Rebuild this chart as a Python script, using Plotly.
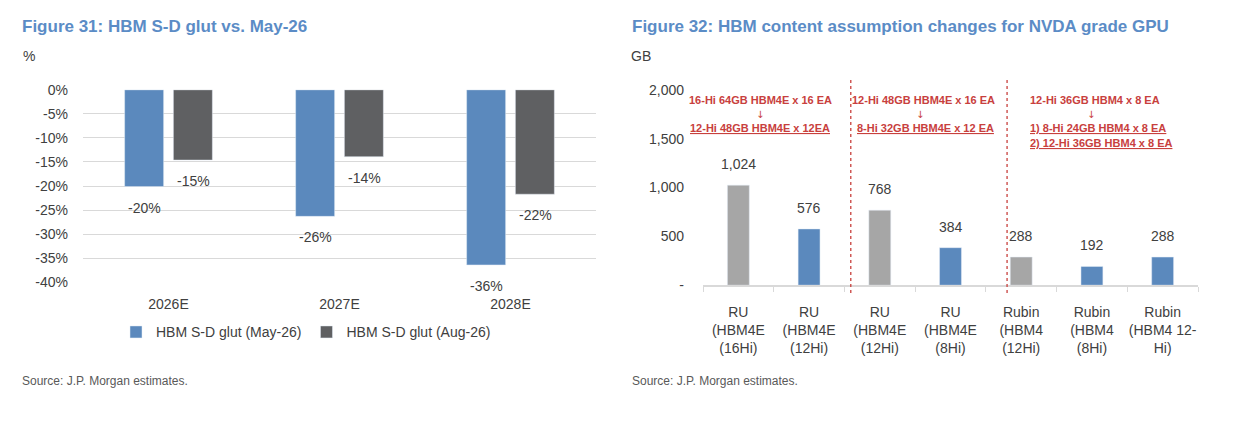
import plotly.graph_objects as go

W, H = 1234, 426

# ---- Figure 31 data
glut_years = ["2026E", "2027E", "2028E"]
glut_may26 = [-20.1, -26.3, -36.4]
glut_aug26 = [-14.6, -13.9, -21.7]
glut_ticks = [0, -5, -10, -15, -20, -25, -30, -35, -40]

# ---- Figure 32 data
gpu_labels = [
    "RU<br>(HBM4E<br>(16Hi)",
    "RU<br>(HBM4E<br>(12Hi)",
    "RU<br>(HBM4E<br>(12Hi)",
    "RU<br>(HBM4E<br>(8Hi)",
    "Rubin<br>(HBM4<br>(12Hi)",
    "Rubin<br>(HBM4<br>(8Hi)",
    "Rubin<br>(HBM4 12-<br>Hi)",
]
gpu_content_gb = [1024, 576, 768, 384, 288, 192, 288]
gpu_is_revised = [False, True, False, True, False, True, True]
gb_ticks = [0, 500, 1000, 1500, 2000]
gb_ticktext = ["-", "500", "1,000", "1,500", "2,000"]

FONT = "Liberation Sans, Arial, sans-serif"
ARROW_FONT = "DejaVu Sans, sans-serif"
TXT = "#404040"
BLUE = "#5b89bd"
DARK = "#5f6062"
LIGHT = "#a6a6a6"
RED = "#c8403d"
TITLE = "#5b8cc6"
GRID = "#d9d9d9"


def px_x(x):
    return x / W


def px_y(y):
    return 1 - y / H


gpu_pos = list(range(len(gpu_labels)))

fig = go.Figure()

fig.add_trace(go.Bar(
    x=glut_years, y=glut_may26, name="HBM S-D glut (May-26)",
    marker_color=BLUE, xaxis="x", yaxis="y",
))
fig.add_trace(go.Bar(
    x=glut_years, y=glut_aug26, name="HBM S-D glut (Aug-26)",
    marker_color=DARK, xaxis="x", yaxis="y",
))
fig.add_trace(go.Bar(
    x=gpu_pos, y=gpu_content_gb, showlegend=False,
    marker_color=[BLUE if r else LIGHT for r in gpu_is_revised],
    width=0.31, xaxis="x2", yaxis="y2",
))

annotations = []

# value labels, figure 31 (below the bar ends)
for vals, shift in [(glut_may26, -24.5), (glut_aug26, 24.5)]:
    for cat, v in zip(glut_years, vals):
        annotations.append(dict(
            x=cat, y=v, xref="x", yref="y", text=f"{round(v):d}%",
            showarrow=False, yanchor="top", xshift=shift, yshift=-11,
            font=dict(family=FONT, size=14, color=TXT),
        ))

# value labels, figure 32 (above the bars)
for p, v in zip(gpu_pos, gpu_content_gb):
    annotations.append(dict(
        x=p, y=v, xref="x2", yref="y2", text=f"{v:,}",
        showarrow=False, yanchor="bottom", yshift=11,
        font=dict(family=FONT, size=14, color=TXT),
    ))


# titles, units, sources
def add_text(x, y, text, size, color=TXT, bold=False, anchor="left", family=FONT):
    annotations.append(dict(
        x=px_x(x), y=px_y(y), xref="paper", yref="paper",
        text=f"<b>{text}</b>" if bold else text,
        showarrow=False, xanchor=anchor, yanchor="middle",
        font=dict(family=family, size=size, color=color),
    ))


add_text(20, 19, "Figure 31: HBM S-D glut vs. May-26", 17, TITLE, bold=True)
add_text(630, 19, "Figure 32: HBM content assumption changes for NVDA grade GPU", 17, TITLE, bold=True)
add_text(21, 50, "%", 14)
add_text(629, 50, "GB", 14)
add_text(20, 388, "Source: J.P. Morgan estimates.", 12, "#595959")
add_text(630, 388, "Source: J.P. Morgan estimates.", 12, "#595959")

# red change notes
NOTE = 11
ARROW = 10
add_text(760, 96, "16-Hi 64GB HBM4E x 16 EA", NOTE, RED, True, "center")
add_text(760, 111, "↓", ARROW, RED, False, "center", ARROW_FONT)
add_text(760, 125, "<u>12-Hi 48GB HBM4E x 12EA</u>", NOTE, RED, True, "center")
add_text(923, 96, "12-Hi 48GB HBM4E x 16 EA", NOTE, RED, True, "center")
add_text(920, 111, "↓", ARROW, RED, False, "center", ARROW_FONT)
add_text(926, 125, "<u>8-Hi 32GB HBM4E x 12 EA</u>", NOTE, RED, True, "center")
add_text(1028, 96, "12-Hi 36GB HBM4 x 8 EA", NOTE, RED, True, "left")
add_text(1091, 111, "↓", ARROW, RED, False, "center", ARROW_FONT)
add_text(1028, 125, "<u>1) 8-Hi 24GB HBM4 x 8 EA</u>", NOTE, RED, True, "left")
add_text(1028, 140, "<u>2) 12-Hi 36GB HBM4 x 8 EA</u>", NOTE, RED, True, "left")

shapes = []
for xc in [1.59, 3.8]:
    shapes.append(dict(
        type="line", xref="x2", yref="paper", x0=xc, x1=xc,
        y0=px_y(296), y1=px_y(73),
        line=dict(color=RED, width=1.3, dash="3px,3px"),
    ))

fig.update_layout(
    width=W, height=H,
    margin=dict(l=0, r=0, t=0, b=0),
    paper_bgcolor="white", plot_bgcolor="white",
    font=dict(family=FONT, size=14, color=TXT),
    barmode="group", bargap=0.43, bargroupgap=0.2,
    showlegend=True,
    legend=dict(
        orientation="h", x=px_x(116), y=px_y(337), xanchor="left", yanchor="middle",
        font=dict(family=FONT, size=14, color=TXT), itemwidth=30,
        bgcolor="rgba(0,0,0,0)",
    ),
    xaxis=dict(
        domain=[px_x(83), px_x(596)], anchor="y",
        type="category", showgrid=False, showline=False, zeroline=False,
        ticks="", ticklabelstandoff=12,
        tickfont=dict(size=14, color=TXT),
    ),
    xaxis3=dict(
        overlaying="x", anchor="y", side="top",
        range=[-0.5, 2.5], tickvals=[-0.5, 0.5, 1.5, 2.5],
        showticklabels=False, ticks="inside", ticklen=5, tickcolor=GRID,
        showgrid=False, showline=False, zeroline=False,
    ),
    yaxis=dict(
        domain=[px_y(285), px_y(85)], anchor="x",
        range=[-40, 0], tickvals=glut_ticks,
        ticktext=[f"{t}%" for t in glut_ticks],
        showgrid=True, gridcolor=GRID, gridwidth=1, zeroline=False,
        showline=False, ticks="", ticklabelstandoff=14,
        tickfont=dict(size=14, color=TXT),
    ),
    xaxis2=dict(
        domain=[px_x(703), px_x(1198)], anchor="y2",
        range=[-0.5, len(gpu_labels) - 0.5],
        tickvals=gpu_pos, ticktext=gpu_labels, tickangle=0,
        showgrid=False, zeroline=False,
        showline=True, linecolor=GRID, linewidth=1.5,
        ticks="", ticklabelstandoff=13,
        minor=dict(
            tickvals=[p - 0.5 for p in gpu_pos] + [gpu_pos[-1] + 0.5],
            ticks="outside", ticklen=5, tickcolor=GRID, showgrid=False,
        ),
        tickfont=dict(size=14, color=TXT),
    ),
    yaxis2=dict(
        domain=[px_y(288), px_y(85)], anchor="x2",
        range=[0, 2000], tickvals=gb_ticks, ticktext=gb_ticktext,
        showgrid=False, zeroline=False, showline=False, ticks="",
        ticklabelstandoff=18,
        tickfont=dict(size=14, color=TXT),
    ),
    annotations=annotations,
    shapes=shapes,
)

fig.write_html(
    "out.html",
    config={"displayModeBar": False},
    post_script="document.body.style.margin='0';",
)
